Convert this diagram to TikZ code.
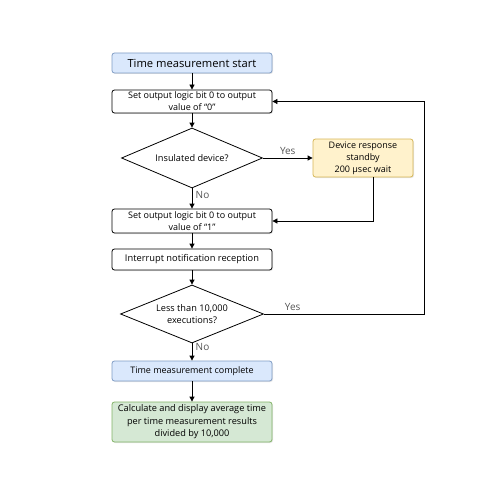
\documentclass[tikz,border=0pt]{standalone}
\usepackage{fontspec}
\setmainfont{Open Sans}
\usetikzlibrary{shapes.geometric,arrows.meta,shadows}
\definecolor{termfill}{HTML}{DAE8FC}
\definecolor{termline}{HTML}{7F9CC4}
\definecolor{waitfill}{HTML}{FFF2CC}
\definecolor{waitline}{HTML}{D6B656}
\definecolor{endfill}{HTML}{D5E8D4}
\definecolor{endline}{HTML}{82B366}
\definecolor{lblgray}{HTML}{555555}
\tikzset{
  proc/.style={draw, line width=0.8pt, rounded corners=2.5pt, fill=white, align=center, minimum width=160pt,
    inner sep=1pt, font=\fontsize{9}{12}\selectfont,
    drop shadow={opacity=0.2, shadow xshift=1pt, shadow yshift=-1pt}},
  term/.style={proc, fill=termfill, draw=termline},
  decide/.style={diamond, draw, line width=0.8pt, fill=white, aspect=2.3, inner sep=0pt, align=center,
    minimum width=141pt, minimum height=60pt, font=\fontsize{9.2}{12}\selectfont},
  arr/.style={-{Triangle[length=5pt,width=5pt]}, line width=0.8pt},
  lbl/.style={text=lblgray, font=\fontsize{10}{11}\selectfont}
}
\begin{document}
\begin{tikzpicture}[x=1pt,y=-1pt]
  \useasboundingbox (0,0) rectangle (500,500);
  % main column
  \node[term, minimum height=20pt, font=\fontsize{11.2}{13}\selectfont] (start) at (192,63) {Time measurement start};
  \node[proc, minimum height=23pt] (setzero) at (192,101.5) {Set output logic bit 0 to output\\value of ``0''};
  \node[decide] (insulated) at (192,158) {Insulated device?};
  \node[proc, draw=waitline, fill=waitfill, minimum width=100pt, minimum height=38pt] (standby) at (363,158) {Device response\\standby\\200 µsec wait};
  \node[proc, minimum height=24pt] (setone) at (192,221) {Set output logic bit 0 to output\\value of ``1''};
  \node[proc, minimum height=21pt, font=\fontsize{9.3}{12}\selectfont] (irq) at (192,259.5) {Interrupt notification reception};
  \node[decide, minimum width=143pt, minimum height=58pt] (count) at (192,314) {Less than 10,000\\executions?};
  \node[term, minimum height=20pt, font=\fontsize{9}{12}\selectfont] (done) at (192,371) {Time measurement complete};
  \node[proc, fill=endfill, draw=endline, minimum height=40pt, font=\fontsize{9.2}{12.5}\selectfont] (average) at (192,422) {Calculate and display average time\\per time measurement results\\divided by 10,000};
  % connectors
  \draw[arr] (start) -- (setzero);
  \draw[arr] (setzero) -- (insulated);
  \draw[arr] (insulated) -- node[lbl, right, pos=0.35] {No} (setone);
  \draw[arr] (insulated) -- node[lbl, above] {Yes} (standby);
  \draw[arr] ([xshift=10pt]standby.south) |- (setone);
  \draw[arr] (setone) -- (irq);
  \draw[arr] (irq) -- (count);
  \draw[arr] (count.east) -- node[lbl, above, pos=0.18] {Yes} ++(160,0) |- (setzero);
  \draw[arr] (count) -- node[lbl, right, pos=0.2] {No} (done);
  \draw[arr] (done) -- (average);
\end{tikzpicture}
\end{document}
